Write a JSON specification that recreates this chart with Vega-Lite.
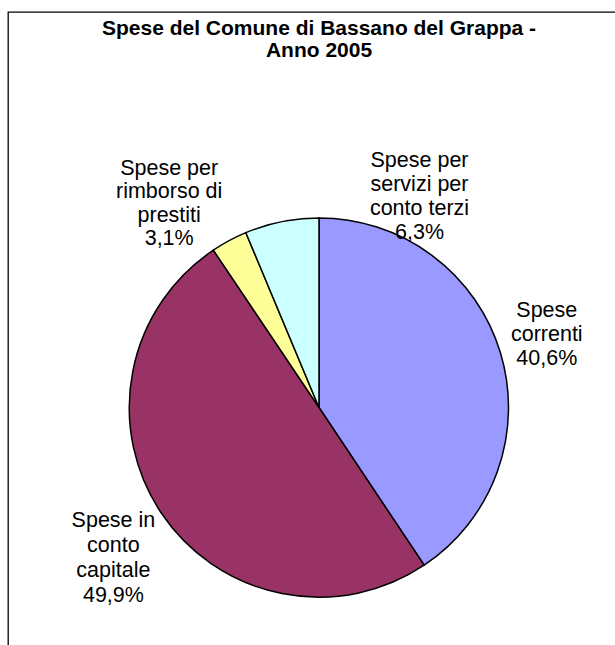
{
  "$schema": "https://vega.github.io/schema/vega-lite/v6.json",
  "autosize": "none",
  "padding": {"left": 8, "top": 12, "right": 0, "bottom": 0},
  "width": 622,
  "height": 791,
  "background": "white",
  "view": {"stroke": "black", "strokeWidth": 1.3, "fill": "white"},
  "title": {
    "text": ["Spese del Comune di Bassano del Grappa -", "Anno 2005"],
    "font": "Liberation Sans",
    "fontSize": 21,
    "fontWeight": "bold",
    "color": "black",
    "anchor": "middle",
    "lineHeight": 22,
    "offset": -49
  },
  "data": {
    "values": [
      {"ord": 1, "categoria": "Spese correnti", "valore": 40.6, "label": "Spese\ncorrenti\n40,6%"},
      {"ord": 2, "categoria": "Spese in conto capitale", "valore": 49.9, "label": "Spese in\nconto\ncapitale\n49,9%"},
      {"ord": 3, "categoria": "Spese per rimborso di prestiti", "valore": 3.1, "label": "Spese per\nrimborso di\nprestiti\n3,1%"},
      {"ord": 4, "categoria": "Spese per servizi per conto terzi", "valore": 6.3, "label": "Spese per\nservizi per\nconto terzi\n6,3%"}
    ]
  },
  "encoding": {
    "theta": {"field": "valore", "type": "quantitative", "stack": true},
    "order": {"field": "ord", "type": "quantitative"}
  },
  "layer": [
    {
      "mark": {"type": "arc", "outerRadius": 189.5, "stroke": "black", "strokeWidth": 1.5},
      "encoding": {
        "color": {
          "field": "categoria",
          "type": "nominal",
          "scale": {
            "domain": ["Spese correnti", "Spese in conto capitale", "Spese per rimborso di prestiti", "Spese per servizi per conto terzi"],
            "range": ["#9999FF", "#993366", "#FFFF99", "#CCFFFF"]
          },
          "legend": null
        }
      }
    },
    {
      "mark": {"type": "text", "radius": 238, "dy": -28, "font": "Liberation Sans", "fontSize": 21.5, "lineHeight": 24, "lineBreak": "\n", "align": "center", "baseline": "middle", "color": "black"},
      "encoding": {"text": {"condition": {"test": "datum.ord == 1", "field": "label"}, "value": ""}}
    },
    {
      "mark": {"type": "text", "radius": 254, "dy": -36, "thetaOffset": -0.038, "font": "Liberation Sans", "fontSize": 21.5, "lineHeight": 25, "lineBreak": "\n", "align": "center", "baseline": "middle", "color": "black"},
      "encoding": {"text": {"condition": {"test": "datum.ord == 2", "field": "label"}, "value": ""}}
    },
    {
      "mark": {"type": "text", "radius": 253, "dy": -35, "thetaOffset": -0.14, "font": "Liberation Sans", "fontSize": 21.5, "lineHeight": 23.5, "lineBreak": "\n", "align": "center", "baseline": "middle", "color": "black"},
      "encoding": {"text": {"condition": {"test": "datum.ord == 3", "field": "label"}, "value": ""}}
    },
    {
      "mark": {"type": "text", "radius": 234, "dy": -35, "thetaOffset": 0.642, "font": "Liberation Sans", "fontSize": 21.5, "lineHeight": 24, "lineBreak": "\n", "align": "center", "baseline": "middle", "color": "black"},
      "encoding": {"text": {"condition": {"test": "datum.ord == 4", "field": "label"}, "value": ""}}
    }
  ]
}
